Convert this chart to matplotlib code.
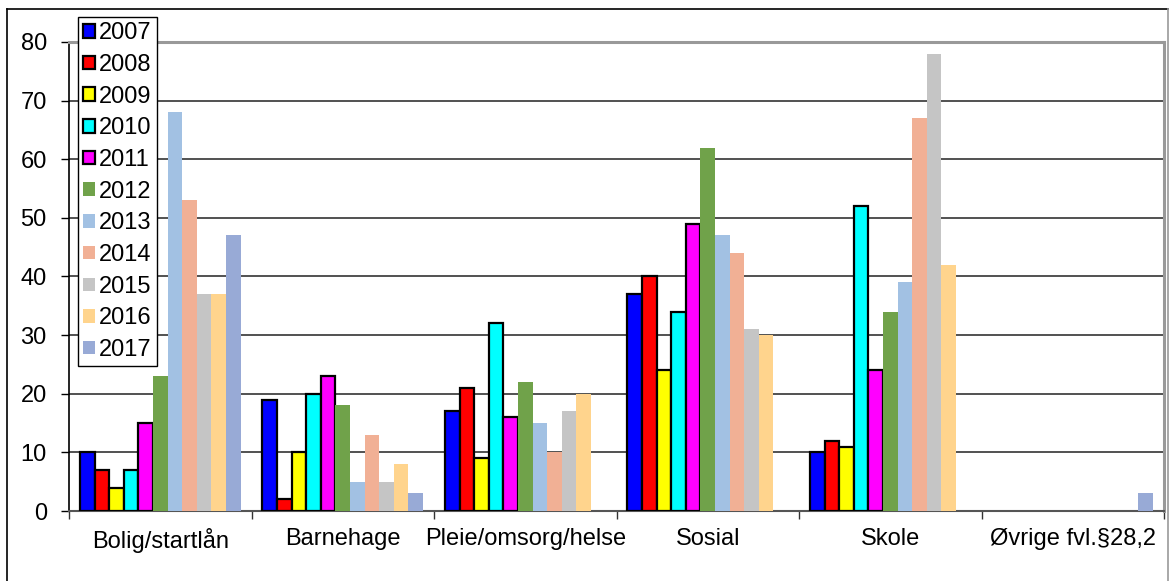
import numpy as np
import matplotlib
matplotlib.use("Agg")
import matplotlib.pyplot as plt
from matplotlib.lines import Line2D

plt.rcParams['font.family'] = ['Liberation Sans', 'DejaVu Sans']

categories = ["Bolig/startlån", "Barnehage", "Pleie/omsorg/helse", "Sosial", "Skole", "Øvrige fvl.§28,2"]
years = ["2007", "2008", "2009", "2010", "2011", "2012", "2013", "2014", "2015", "2016", "2017"]

# verdier per år, i kategorirekkefølge
v2007 = [10, 19, 17, 37, 10, 0]
v2008 = [7, 2, 21, 40, 12, 0]
v2009 = [4, 10, 9, 24, 11, 0]
v2010 = [7, 20, 32, 34, 52, 0]
v2011 = [15, 23, 16, 49, 24, 0]
v2012 = [23, 18, 22, 62, 34, 0]
v2013 = [68, 5, 15, 47, 39, 0]
v2014 = [53, 13, 10, 44, 67, 0]
v2015 = [37, 5, 17, 31, 78, 0]
v2016 = [37, 8, 20, 30, 42, 0]
v2017 = [47, 3, 0, 0, 0, 3]

series = [v2007, v2008, v2009, v2010, v2011, v2012, v2013, v2014, v2015, v2016, v2017]
colors = ["#0000FF", "#FF0000", "#FFFF00", "#00FFFF", "#FF00FF", "#70A24A",
          "#A2C1E3", "#F1B095", "#C5C5C5", "#FFD48D", "#98AAD6"]
edged = 5  # de fem første årene har svart kant

fig = plt.figure(figsize=(11.71, 5.81), dpi=100)
ax = fig.add_axes([69 / 1171, 1 - 511 / 581, (1164 - 69) / 1171, (511 - 42) / 581])

x = np.arange(len(categories))
w = 0.08
for i, (vals, col) in enumerate(zip(series, colors)):
    vals = np.array(vals, dtype=float)
    m = vals > 0
    off = (i - (len(series) - 1) / 2) * w
    if i < edged:
        ax.bar(x[m] + off, vals[m], w, color=col, edgecolor="black", linewidth=1.6,
               label=years[i], zorder=3)
    else:
        ax.bar(x[m] + off, vals[m], w, color=col, linewidth=0, label=years[i], zorder=3)

ax.set_xlim(-0.5, len(categories) - 0.5)
ax.set_ylim(0, 80)
ax.set_yticks(range(0, 81, 10))
ax.tick_params(axis="y", labelsize=17, length=6, width=1, pad=10, direction="out")
ax.set_xticks(x)
ax.set_xticklabels(categories)
ax.tick_params(axis="x", which="major", length=0, labelsize=17, pad=12)
ax.set_xticks(np.arange(-0.5, len(categories)), minor=True)
ax.tick_params(axis="x", which="minor", length=6, width=1, color="#333333")

for yv in range(10, 80, 10):
    ax.axhline(yv, color="#222222", linewidth=1.1, zorder=1)

ax.spines["left"].set_color("black")
ax.spines["left"].set_linewidth(1.2)
ax.spines["bottom"].set_color("#555555")
ax.spines["bottom"].set_linewidth(1.5)
ax.spines["top"].set_color("#999999")
ax.spines["top"].set_linewidth(2.2)
ax.spines["right"].set_color("#999999")
ax.spines["right"].set_linewidth(2.2)

leg = ax.legend(loc="upper left", bbox_to_anchor=(78 / 1171, 1 - 17 / 581),
                bbox_transform=fig.transFigure, fontsize=17, frameon=True,
                fancybox=False, edgecolor="black", framealpha=1,
                handlelength=0.5, handleheight=0.5, handletextpad=0.18,
                labelspacing=0.41, borderpad=0.22, borderaxespad=0)
leg.get_frame().set_linewidth(1.0)
leg.set_zorder(5)

# ramme rundt hele figuren
fig.add_artist(Line2D([7 / 1171, 7 / 1171], [0, 1 - 9 / 581], color="black", lw=1.2))
fig.add_artist(Line2D([7 / 1171, 1168 / 1171], [1 - 9 / 581, 1 - 9 / 581], color="black", lw=1.2))
fig.add_artist(Line2D([1168 / 1171, 1168 / 1171], [0, 1 - 9 / 581], color="#999999", lw=1.2))

fig.savefig("out.png", dpi=100)
